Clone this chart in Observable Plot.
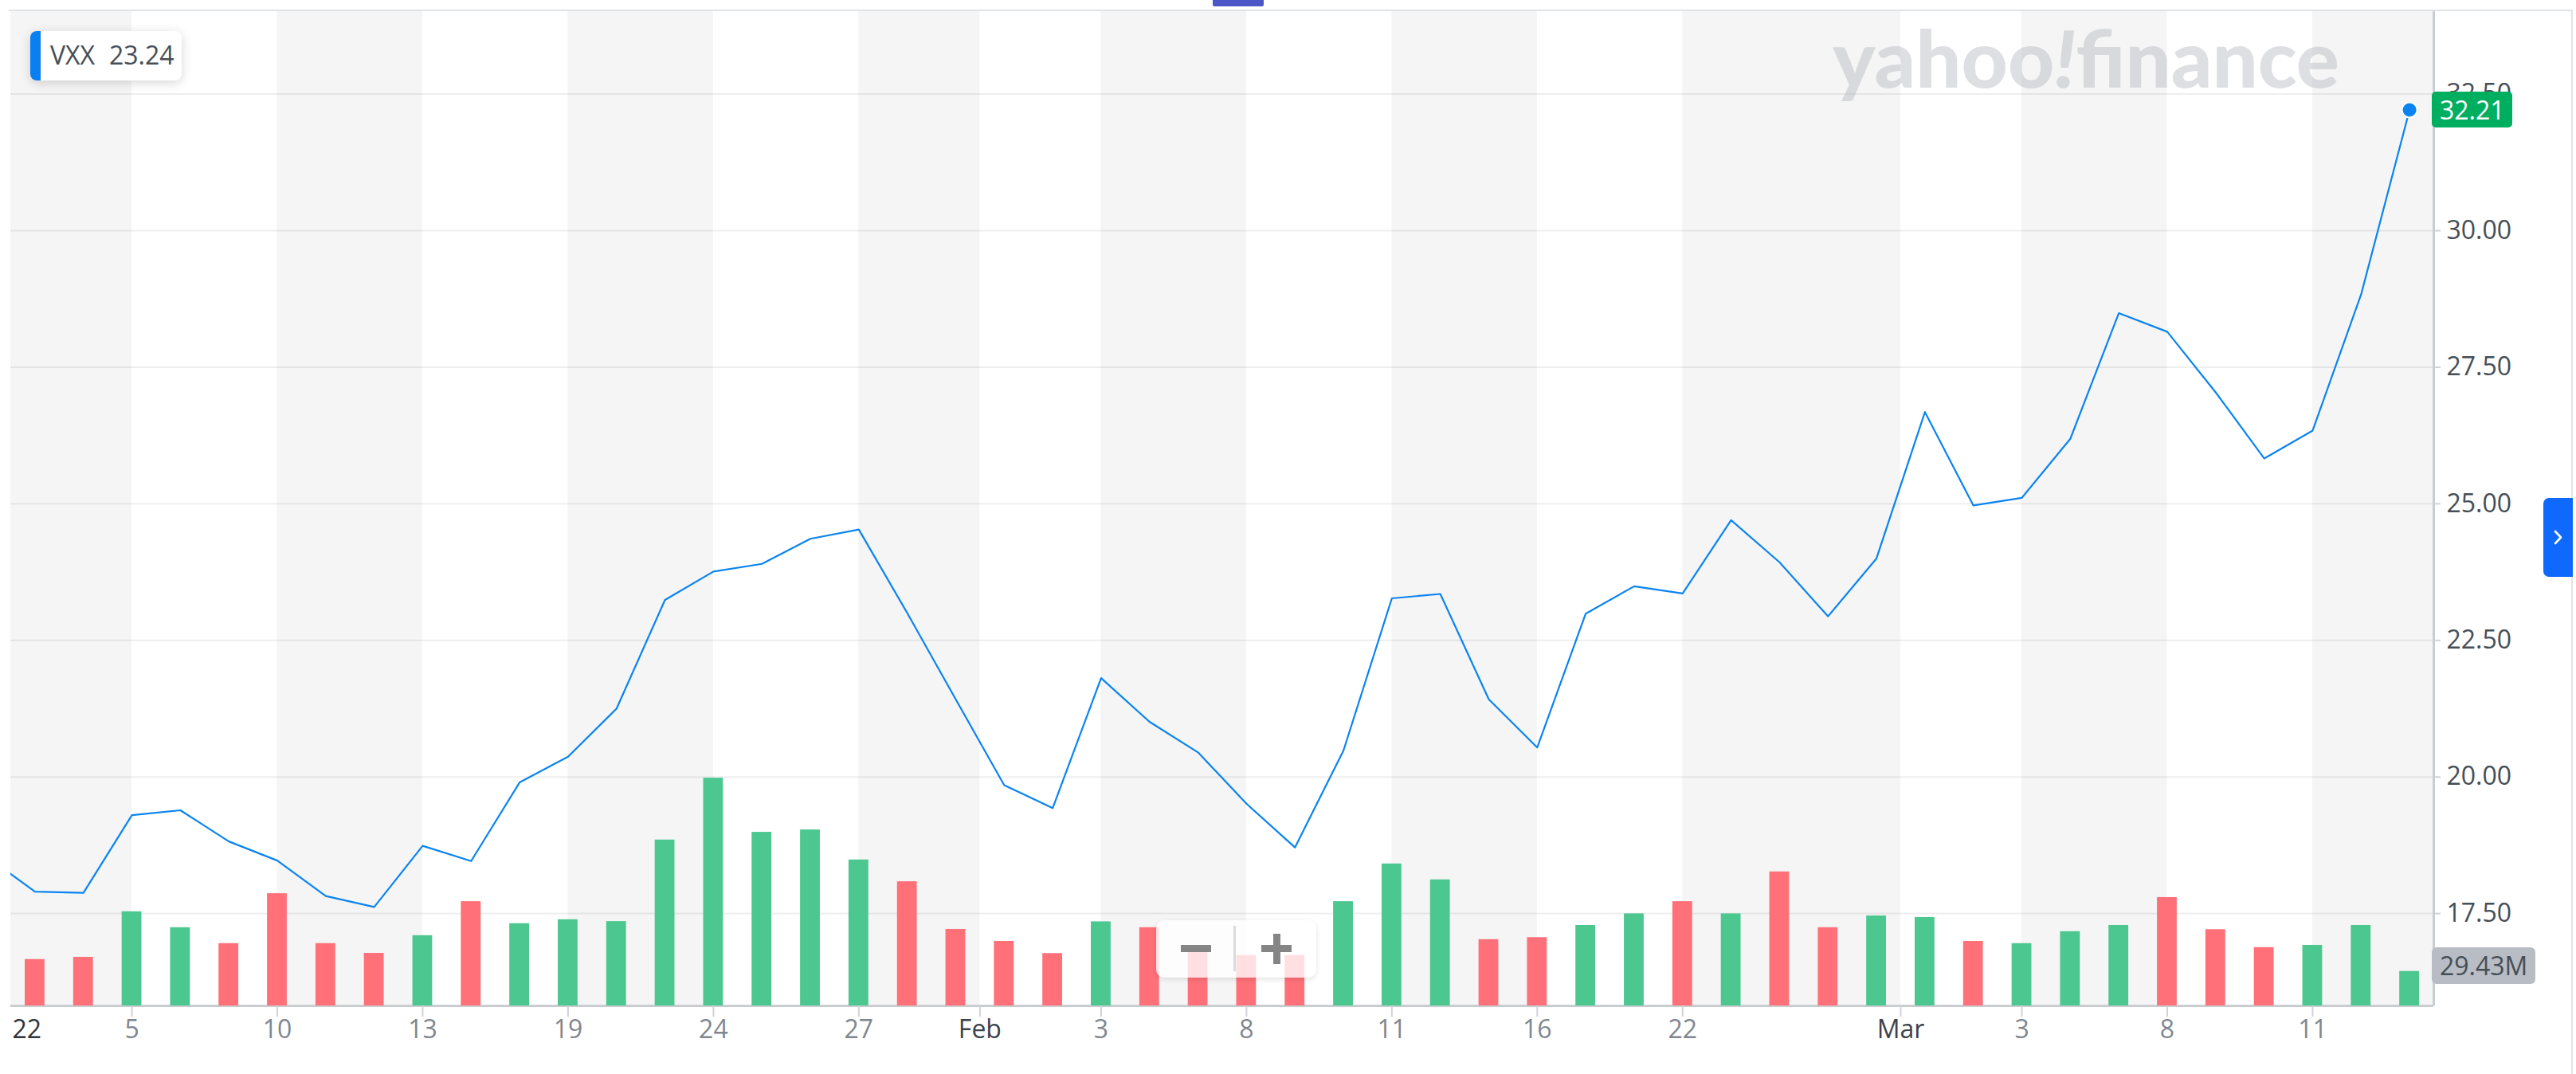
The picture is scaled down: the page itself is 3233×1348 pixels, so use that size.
<!DOCTYPE html>
<html>
<head>
<meta charset="utf-8">
<script src="https://cdn.jsdelivr.net/npm/d3@7"></script>
<script src="https://cdn.jsdelivr.net/npm/@observablehq/plot@0.6"></script>
<style>
  html, body { margin: 0; padding: 0; background: #fff; }
  #wrap { position: relative; width: 3233px; height: 1348px; overflow: hidden; font-family: "Open Sans", "Noto Sans", sans-serif; }
  #wrap > svg { position: absolute; left: 0; top: 0; }
  .ov { position: absolute; box-sizing: border-box; }
</style>
</head>
<body>
<div id="wrap"></div>
<script>
// ---------------- data ----------------
const symbol = "VXX";
const legendValue = "23.24";
// first entry is the previous session; it only feeds the clipped start of the line
const dates = ["2021-12-31",
  "2022-01-03","2022-01-04","2022-01-05","2022-01-06","2022-01-07","2022-01-10","2022-01-11","2022-01-12","2022-01-13","2022-01-14",
  "2022-01-18","2022-01-19","2022-01-20","2022-01-21","2022-01-24","2022-01-25","2022-01-26","2022-01-27","2022-01-28","2022-01-31",
  "2022-02-01","2022-02-02","2022-02-03","2022-02-04","2022-02-07","2022-02-08","2022-02-09","2022-02-10","2022-02-11","2022-02-14",
  "2022-02-15","2022-02-16","2022-02-17","2022-02-18","2022-02-22","2022-02-23","2022-02-24","2022-02-25","2022-02-28",
  "2022-03-01","2022-03-02","2022-03-03","2022-03-04","2022-03-07","2022-03-08","2022-03-09","2022-03-10","2022-03-11","2022-03-14","2022-03-15"];
const closes = [18.55,
  17.90,17.88,19.30,19.39,18.82,18.47,17.82,17.62,18.74,18.46,
  19.90,20.37,21.25,23.24,23.76,23.90,24.36,24.53,23.00,21.42,
  19.85,19.43,21.81,21.01,20.45,19.51,18.71,20.48,23.27,23.35,
  21.42,20.54,22.99,23.49,23.36,24.70,23.93,22.94,24.00,
  26.68,24.97,25.11,26.19,28.49,28.15,27.04,25.83,26.34,28.83,32.21];
// volume in millions, 2022-01-03 .. 2022-03-15
const volumes = [
  39.6,41.5,80.4,66.8,53.2,95.8,53.2,44.9,60.0,89.0,
  70.2,73.6,72.0,141.6,194.4,148.2,150.2,124.6,106.0,65.3,
  55.1,44.7,71.8,66.8,46.2,43.0,43.0,89.0,121.2,107.6,
  56.6,58.3,68.7,78.6,89.0,78.6,114.4,66.8,76.8,
  75.5,55.1,53.2,63.4,68.7,92.5,65.1,49.8,51.7,68.7,29.43];
const yTicks = [17.5, 20, 22.5, 25, 27.5, 30, 32.5];
const xTickDates  = ["2022-01-03","2022-01-05","2022-01-10","2022-01-13","2022-01-19","2022-01-24","2022-01-27","2022-02-01","2022-02-03","2022-02-08","2022-02-11","2022-02-16","2022-02-22","2022-03-01","2022-03-03","2022-03-08","2022-03-11"];
const xTickLabels = ["22","5","10","13","19","24","27","Feb","3","8","11","16","22","Mar","3","8","11"];
const xTickKinds  = ["year","day","day","day","day","day","day","month","day","day","day","day","day","month","day","day","day"];

// ---------------- derived ----------------
const W = 3233, H = 1348;
const nBars = volumes.length;
const idx = d => dates.indexOf(d) - 1;
const price = dates.map((d, k) => ({i: k - 1, date: d, close: closes[k]}));
const bars = volumes.map((v, k) => ({i: k, vol: v, up: closes[k + 1] >= closes[k]}));
const ticks = xTickDates.map((d, k) => ({
  pos: idx(d) - (xTickKinds[k] === "day" ? 0 : 0.5), label: xTickLabels[k], kind: xTickKinds[k]}));
const xDomain = [-0.5, nBars - 0.5];
const yDomain = [15.81, 34.04];
const volDomain = [0, 850];
const bounds = [xDomain[0], ...ticks.filter(t => t.pos > xDomain[0]).map(t => t.pos), xDomain[1]];
const bands = d3.pairs(bounds).map(([a, b], k) => ({a, b, k})).filter(d => d.k % 2 === 0);

const base = {
  width: W, height: H, marginLeft: 13, marginRight: 179, marginTop: 12, marginBottom: 86,
  style: {background: "transparent", fontFamily: '"Open Sans", "Noto Sans", sans-serif', fontSize: "32px", overflow: "visible"}
};

const plotA = Plot.plot({
  ...base,
  x: {type: "linear", domain: xDomain, label: null},
  y: {domain: yDomain, label: null},
  color: {type: "identity"},
  marks: [
    Plot.rect(bands, {x1: "a", x2: "b", fill: "#f5f5f5"}),
    Plot.gridY(yTicks, {stroke: "#000", strokeOpacity: 0.065, strokeWidth: 2}),
    Plot.ruleY([yDomain[0]], {stroke: "#c9cdd2", strokeWidth: 3}),
    Plot.ruleX([xDomain[1]], {stroke: "#c9cdd2", strokeWidth: 3}),
    Plot.axisY(yTicks, {anchor: "right", tickSize: 8, tickPadding: 8, tickFormat: d3.format(".2f"),
      stroke: "#cfd3d8", strokeWidth: 2, fill: "#464e56", label: null}),
    Plot.axisX(ticks.filter(t => t.kind !== "year").map(t => t.pos), {anchor: "bottom", tickSize: 14,
      tickFormat: () => "", stroke: "#cfd3d8", strokeWidth: 2, label: null}),
    Plot.text(ticks.filter(t => t.kind !== "year"), {x: "pos", text: "label",
      fill: t => t.kind === "day" ? "#80878f" : "#3c434a", frameAnchor: "bottom", dy: 40}),
    Plot.text(ticks.filter(t => t.kind === "year"), {x: "pos", text: "label", fill: "#2f353b",
      frameAnchor: "bottom", dy: 40, dx: 2, textAnchor: "start"})
  ]
});

const plotB = Plot.plot({
  ...base,
  x: {type: "linear", domain: xDomain, axis: null},
  y: {domain: volDomain, axis: null},
  color: {type: "identity"},
  marks: [
    Plot.rect(bars, {x1: d => d.i - 0.5, x2: d => d.i + 0.5, y1: () => 0, y2: "vol",
      fill: d => d.up ? "#4cc790" : "#ff7078", insetLeft: 18, insetRight: 18})
  ]
});

const plotC = Plot.plot({
  ...base,
  x: {type: "linear", domain: xDomain, axis: null},
  y: {domain: yDomain, axis: null},
  marks: [
    Plot.line(price, {x: "i", y: "close", stroke: "#0a84f0", strokeWidth: 2.2, clip: true}),
    Plot.dot(price.slice(-1), {x: "i", y: "close", r: 9.5, fill: "#0a84f0", stroke: "#fff", strokeWidth: 2})
  ]
});

const wrap = document.getElementById("wrap");
wrap.appendChild(plotA);

// watermark
const ns = "http://www.w3.org/2000/svg";
const wm = document.createElementNS(ns, "svg");
wm.setAttribute("width", W); wm.setAttribute("height", H);
wm.innerHTML = `<text x="2300" y="110" textLength="636" lengthAdjust="spacingAndGlyphs"
  style="font-family:Lato, 'DejaVu Sans', sans-serif;font-weight:900;font-size:100px;fill:#a9b0ba;fill-opacity:0.4">yahoo<tspan style="font-style:italic">!</tspan>finance</text>`;
wrap.appendChild(wm);

wrap.appendChild(plotB);
wrap.appendChild(plotC);

function ov(css, html = "") {
  const d = document.createElement("div");
  d.className = "ov";
  d.style.cssText = css;
  d.innerHTML = html;
  wrap.appendChild(d);
  return d;
}

// frame lines outside the plotting area
ov("left:11px;top:11.5px;width:3218px;height:2.5px;background:#dfe3e8;");
ov("left:3227px;top:12px;width:2px;height:1336px;background:#e1e4e8;");
// top center tab marker
ov("left:1522px;top:0;width:64px;height:8px;background:#4d56c6;border-radius:0 0 2px 2px;");

// legend
ov("left:38px;top:39px;width:190px;height:62px;background:#fff;border-radius:8px;box-shadow:0 3px 14px rgba(0,0,0,0.16);overflow:hidden;",
  `<div style="position:absolute;left:0;top:0;width:13px;height:62px;background:#0a7ff0;"></div>
   <span style="position:absolute;left:25px;top:8px;font-size:32px;line-height:44px;color:#464e56;">${symbol}</span>
   <span style="position:absolute;left:99px;top:8px;font-size:32px;line-height:44px;color:#464e56;">${legendValue}</span>`);

// last price label
const yLast = plotC.scale("y").apply(closes[closes.length - 1]);
ov(`left:3052px;top:${yLast - 22.5}px;width:101px;height:45px;background:#00ae5f;border-radius:5px;color:#fff;font-size:32px;line-height:45px;padding-left:10px;`,
  d3.format(".2f")(closes[closes.length - 1]));

// last volume label
const vLast = plotB.scale("y").apply(volumes[volumes.length - 1]);
ov(`left:3052px;top:${vLast - 30}px;width:130px;height:46px;background:#b8bdc5;border-radius:6px;color:#464e56;font-size:32px;line-height:46px;padding-left:10px;`,
  d3.format(".2f")(volumes[volumes.length - 1]) + "M");

// right side expand button
ov("left:3192px;top:625px;width:37px;height:99px;background:#0f69ff;border-radius:7px 0 0 7px;",
  `<svg width="37" height="99" style="position:absolute;left:0;top:0"><polyline points="15,42 22,49.5 15,57" fill="none" stroke="#fff" stroke-width="2.6" stroke-linecap="round" stroke-linejoin="round"/></svg>`);

// zoom control
ov("left:1451px;top:1155px;width:201px;height:72px;background:rgba(255,255,255,0.78);border-radius:10px;box-shadow:0 2px 6px rgba(0,0,0,0.12);",
  `<div style="position:absolute;left:97px;top:7px;width:3px;height:57px;background:#dadada;"></div>
   <div style="position:absolute;left:31px;top:31px;width:38px;height:9px;background:#858585;"></div>
   <div style="position:absolute;left:132px;top:31px;width:38px;height:9px;background:#858585;"></div>
   <div style="position:absolute;left:147px;top:17px;width:9px;height:38px;background:#858585;"></div>`);
</script>
</body>
</html>
